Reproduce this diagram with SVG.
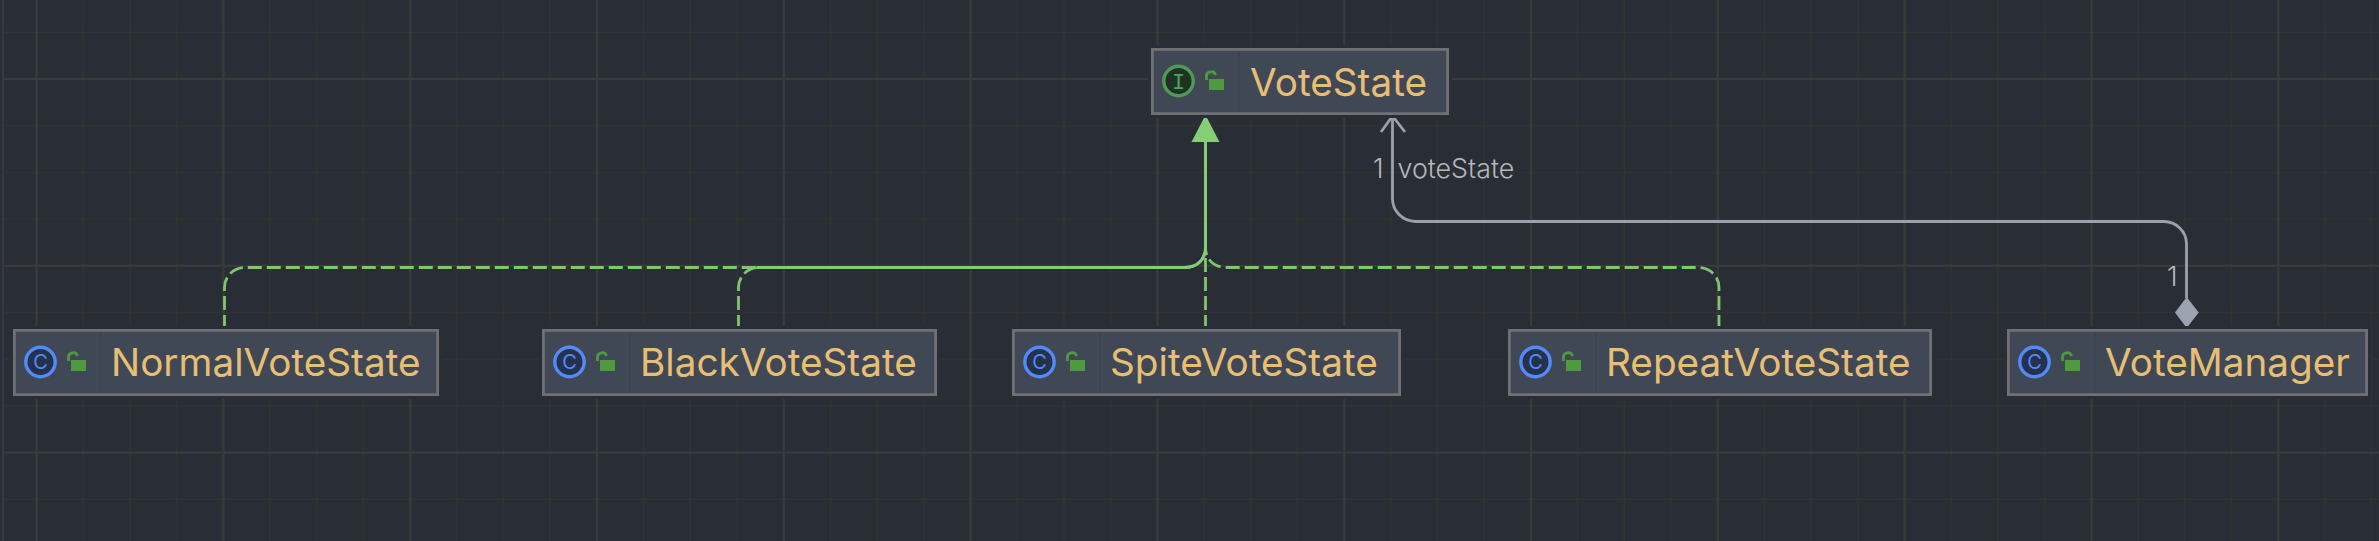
<svg xmlns="http://www.w3.org/2000/svg" width="2379" height="541" viewBox="0 0 2379 541">
<style>
.bg{fill:#292d36}
.halo{fill:#292d36}
.box{fill:#414855;stroke:#6f7073;stroke-width:2.8}
.div{stroke:#3b414d;stroke-width:1.2}
.name{font-family:Inter,"Noto Sans",sans-serif;font-size:38.7px;fill:#e6bf75}
.lbl{font-family:Inter,"Noto Sans",sans-serif;font-size:26.8px;font-weight:300;fill:#b4b7bc}
.dash{fill:none;stroke:#80c56f;stroke-width:2.8;stroke-dasharray:14 5}
.solid{fill:none;stroke:#85cb74;stroke-width:3}
.assoc{fill:none;stroke:#9aa1ae;stroke-width:2.8}
.ltr{font-size:20px;text-anchor:middle;font-family:Inter,sans-serif}
</style>
<defs>
<pattern id="minor" x="-9.5" y="-13.7" width="46.7" height="46.7" patternUnits="userSpaceOnUse">
<path d="M46.2 0V46.7M0 46.2H46.7" stroke="#33332f" stroke-width="1.6" fill="none"/>
</pattern>
<pattern id="major" x="37.7" y="-106.8" width="186.8" height="186.8" patternUnits="userSpaceOnUse">
<path d="M185.8 0V186.8M0 185.8H186.8" stroke="#3a3b38" stroke-width="2" fill="none"/>
</pattern>
<g id="lock">
<rect x="58" y="31" width="15" height="11" fill="#4f9a40"/>
<path d="M55.5 32V28.5a4.6 4.6 0 0 1 9-1.5" fill="none" stroke="#4f9a40" stroke-width="2.8"/>
</g>
<g id="cicon">
<circle cx="27.5" cy="33" r="14.7" fill="#25324d" stroke="#548af7" stroke-width="3.4"/>
</g>
</defs>
<rect class="bg" width="2379" height="541"/>
<rect x="4" width="2375" height="541" fill="url(#minor)"/>
<rect x="4" width="2375" height="541" fill="url(#major)"/>
<rect x="2" width="2" height="541" fill="#343945"/>

<g id="connectors">
<path class="dash" d="M224.5 329V288a20 20 0 0 1 20-20.5H1185c12 0 20.5-8 20.5-20V142"/>
<path class="dash" d="M738.5 329V288a20 20 0 0 1 20-20.5H1185c12 0 20.5-8 20.5-20V142"/>
<path class="dash" d="M1205.5 329V142"/>
<path class="dash" d="M1719 329V288a20 20 0 0 0-20-20.5H1226c-12 0-20.5-8-20.5-20V142"/>
<path class="solid" d="M757 267.5H1185c12 0 20.5-8 20.5-20V142"/>
<polygon points="1205.5,115 1219.5,142 1191.5,142" fill="#85cf74"/>
<path class="assoc" d="M1392.5 116V198a23 23 0 0 0 23 23.5H2164a22.5 22.5 0 0 1 22.5 22V298"/>
<path class="assoc" d="M1381 132L1392.5 116L1405 132"/>
<polygon points="2186.7,297 2198.7,312.5 2186.7,328 2175,312.5" fill="#9ca3b0"/>
<text class="lbl" x="1373" y="178">1</text>
<text class="lbl" x="1397.5" y="178">voteState</text>
<text class="lbl" x="2167" y="286">1</text>
</g>

<g id="node-VoteState" transform="translate(1151 48)">
<rect class="halo" x="-3" y="-3" width="304" height="73"/>
<rect class="box" x="1.4" y="1.4" width="295.2" height="64.2"/>
<line class="div" x1="88" y1="3" x2="88" y2="64"/>
<circle cx="27.5" cy="33" r="14.7" fill="#1f3325" stroke="#4f9a55" stroke-width="3.4"/>
<text class="ltr" x="27.5" y="40.5" fill="#53a25b" style="font-family:'Liberation Mono',monospace;font-size:22px">I</text>
<use href="#lock"/>
<text class="name" x="99" y="47.5">VoteState</text>
</g>

<g id="node-NormalVoteState" transform="translate(13 329)">
<rect class="halo" x="-3" y="-3" width="432" height="73"/>
<rect class="box" x="1.4" y="1.4" width="423.2" height="64.2"/>
<line class="div" x1="88" y1="3" x2="88" y2="64"/>
<use href="#cicon"/>
<text class="ltr" x="27.5" y="40" fill="#548af7">C</text>
<use href="#lock"/>
<text class="name" x="98" y="47">NormalVoteState</text>
</g>

<g id="node-BlackVoteState" transform="translate(542 329)">
<rect class="halo" x="-3" y="-3" width="401" height="73"/>
<rect class="box" x="1.4" y="1.4" width="392.2" height="64.2"/>
<line class="div" x1="88" y1="3" x2="88" y2="64"/>
<use href="#cicon"/>
<text class="ltr" x="27.5" y="40" fill="#548af7">C</text>
<use href="#lock"/>
<text class="name" x="98" y="47">BlackVoteState</text>
</g>

<g id="node-SpiteVoteState" transform="translate(1012 329)">
<rect class="halo" x="-3" y="-3" width="395" height="73"/>
<rect class="box" x="1.4" y="1.4" width="386.2" height="64.2"/>
<line class="div" x1="88" y1="3" x2="88" y2="64"/>
<use href="#cicon"/>
<text class="ltr" x="27.5" y="40" fill="#548af7">C</text>
<use href="#lock"/>
<text class="name" x="98" y="47">SpiteVoteState</text>
</g>

<g id="node-RepeatVoteState" transform="translate(1508 329)">
<rect class="halo" x="-3" y="-3" width="430" height="73"/>
<rect class="box" x="1.4" y="1.4" width="421.2" height="64.2"/>
<line class="div" x1="88" y1="3" x2="88" y2="64"/>
<use href="#cicon"/>
<text class="ltr" x="27.5" y="40" fill="#548af7">C</text>
<use href="#lock"/>
<text class="name" x="98" y="47">RepeatVoteState</text>
</g>

<g id="node-VoteManager" transform="translate(2007 329)">
<rect class="halo" x="-3" y="-3" width="367" height="73"/>
<rect class="box" x="1.4" y="1.4" width="358.2" height="64.2"/>
<line class="div" x1="88" y1="3" x2="88" y2="64"/>
<use href="#cicon"/>
<text class="ltr" x="27.5" y="40" fill="#548af7">C</text>
<use href="#lock"/>
<text class="name" x="98" y="47">VoteManager</text>
</g>
</svg>
